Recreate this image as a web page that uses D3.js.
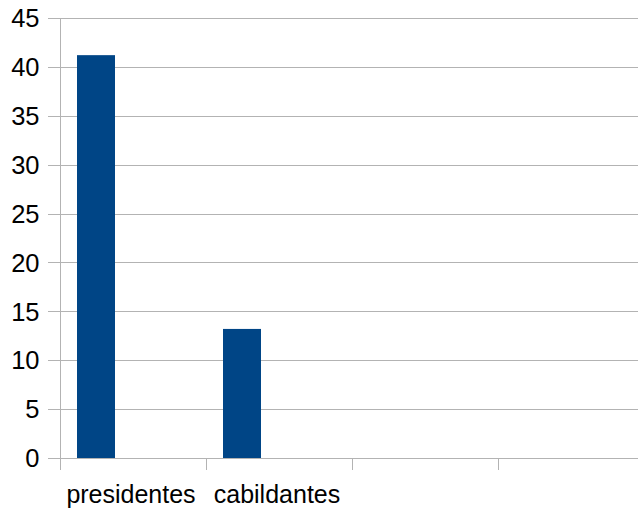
<!DOCTYPE html>
<html><head><meta charset="utf-8">
<script src="https://cdn.jsdelivr.net/npm/d3@7"></script>
<style>html,body{margin:0;padding:0;background:#fff;}svg{display:block;}</style>
</head><body><svg id="c" width="638" height="508"></svg>
<script>
const categories = ["presidentes", "cabildantes", "", ""];
const values = [41.2, 13.2, null, null];
const yTicks = [0, 5, 10, 15, 20, 25, 30, 35, 40, 45];

(function () {
const svg = d3.select("#c");
const mLeft = 60, mTop = 18, mBottom = 458, mRight = 644;
const font = "'Liberation Sans', Arial, sans-serif";
const grid = "#b3b3b3";

const y = d3.scaleLinear().domain([0, 45]).range([mBottom, mTop]);
const x = d3.scaleBand().domain(d3.range(categories.length)).range([mLeft, mRight]).padding(0);
// three series slots per category (only the first carries data)
const xs = d3.scaleBand().domain([0, 1, 2]).range([0, x.bandwidth()]).paddingInner(0).paddingOuter(0.44);

// gridlines
svg.append("g").selectAll("line").data(yTicks).join("line")
  .attr("x1", mLeft - 12).attr("x2", 638)
  .attr("y1", d => Math.round(y(d)) + 0.5).attr("y2", d => Math.round(y(d)) + 0.5)
  .attr("stroke", grid).attr("stroke-width", 1);

// y labels
svg.append("g").selectAll("text").data(yTicks).join("text")
  .attr("x", 39.5).attr("y", d => y(d)).attr("dy", "0.36em")
  .attr("text-anchor", "end").attr("font-family", font).attr("font-size", 25.5)
  .attr("fill", "#000").text(d => d);

// bars
svg.append("g").selectAll("rect").data(values.map((v, i) => ({v, i})).filter(d => d.v != null)).join("rect")
  .attr("x", d => Math.round(x(d.i) + xs(0))).attr("width", Math.round(xs.bandwidth()))
  .attr("y", d => y(d.v)).attr("height", d => y(0) - y(d.v))
  .attr("fill", "#004586");

// y axis line
svg.append("line").attr("x1", mLeft + 0.5).attr("x2", mLeft + 0.5)
  .attr("y1", mTop).attr("y2", mBottom + 12).attr("stroke", grid);

// x ticks at band boundaries
const bounds = categories.map((c, i) => x(i));
svg.append("g").selectAll("line").data(bounds).join("line")
  .attr("x1", d => Math.round(d) + 0.5).attr("x2", d => Math.round(d) + 0.5)
  .attr("y1", mBottom).attr("y2", mBottom + 12).attr("stroke", grid);

// category labels
svg.append("g").selectAll("text").data(categories).join("text")
  .attr("x", (d, i) => x(i) + x.bandwidth() / 2 - 2).attr("y", 503)
  .attr("text-anchor", "middle").attr("font-family", font).attr("font-size", 25)
  .attr("fill", "#000").text(d => d);
})();
</script></body></html>
